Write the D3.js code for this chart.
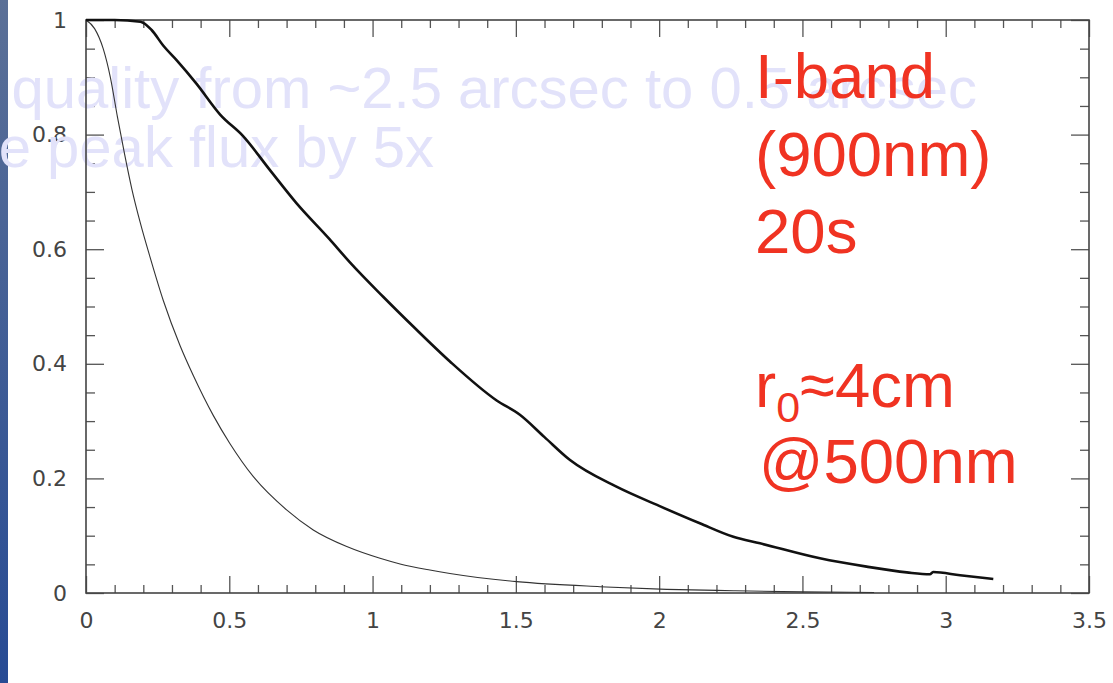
<!DOCTYPE html>
<html><head><meta charset="utf-8">
<script src="https://cdn.jsdelivr.net/npm/d3@7/dist/d3.min.js"></script>
<style>html,body{margin:0;padding:0;background:#fff;overflow:hidden}</style>
</head><body>
<script>
// ---- data ----
const thickX = [0, 0.10, 0.19, 0.229, 0.27, 0.316, 0.386, 0.468, 0.549, 0.642, 0.735, 0.849, 0.921, 1.037, 1.142, 1.27, 1.433, 1.514, 1.60, 1.689, 1.851, 2.0, 2.142, 2.259, 2.352, 2.561, 2.724, 2.864, 2.945, 2.956, 3.05, 3.166];
const thickY = [1, 1, 0.997, 0.9825, 0.955, 0.930, 0.8885, 0.835, 0.797, 0.738, 0.680, 0.618, 0.577, 0.517, 0.465, 0.404, 0.336, 0.311, 0.272, 0.232, 0.1855, 0.152, 0.1216, 0.098, 0.0867, 0.0605, 0.046, 0.036, 0.0326, 0.0366, 0.031, 0.0244];
const thinX = [0, 0.03, 0.06, 0.085, 0.11, 0.135, 0.16, 0.19, 0.223, 0.27, 0.328, 0.374, 0.444, 0.502, 0.584, 0.70, 0.793, 0.91, 1.026, 1.096, 1.2, 1.27, 1.503, 1.793, 2.026, 2.259, 2.5, 2.75];
const thinY = [1, 0.985, 0.95, 0.90, 0.83, 0.765, 0.705, 0.645, 0.587, 0.51, 0.432, 0.38, 0.31, 0.261, 0.203, 0.145, 0.110, 0.081, 0.0605, 0.0506, 0.040, 0.034, 0.0198, 0.011, 0.0064, 0.004, 0.002, 0.001];
const xMajorTicks = [0, 0.5, 1, 1.5, 2, 2.5, 3, 3.5];
const xTickLabels = ["0", "0.5", "1", "1.5", "2", "2.5", "3", "3.5"];
const yMajorTicks = [0, 0.2, 0.4, 0.6, 0.8, 1];
const yTickLabels = ["0", "0.2", "0.4", "0.6", "0.8", "1"];
const redLines = ["I-band", "(900nm)", "20s"];
const fadedLines = ["quality from ~2.5 arcsec to 0.5 arcsec", "e peak flux by 5x"];

const W = 1113, H = 683;
const svg = d3.select("body").append("svg").attr("width", W).attr("height", H);
const L = 86, R = 1089, T = 20, B = 593;
const x = d3.scaleLinear().domain([0, 3.5]).range([L, R]);
const y = d3.scaleLinear().domain([0, 1]).range([B, T]);

// left blue bar
const defs = svg.append("defs");
const g1 = defs.append("linearGradient").attr("id", "bar").attr("x1", 0).attr("y1", 0).attr("x2", 0).attr("y2", 1);
g1.append("stop").attr("offset", "0%").attr("stop-color", "#5b7097");
g1.append("stop").attr("offset", "100%").attr("stop-color", "#274b94");
svg.append("rect").attr("x", 0).attr("y", 0).attr("width", 8).attr("height", H).attr("fill", "url(#bar)");

const xMinor = d3.range(0, 3.5001, 0.1).map(v => +v.toFixed(2)).filter(v => !xMajorTicks.some(m => Math.abs(m - v) < 1e-6));
const yMinor = d3.range(0, 1.0001, 0.05).map(v => +v.toFixed(2)).filter(v => !yMajorTicks.some(m => Math.abs(m - v) < 1e-6));

const tickColor = "#555";
function styleAxis(g, fs) {
  g.select(".domain").remove();
  g.selectAll("line").attr("stroke", tickColor).attr("stroke-width", 1.3);
  g.selectAll("text").attr("font-family", "DejaVu Sans, sans-serif").attr("font-size", fs).attr("fill", "#444");
}
const xLab = d => xTickLabels[xMajorTicks.indexOf(d)];
const yLab = d => yTickLabels[yMajorTicks.findIndex(m => Math.abs(m - d) < 1e-6)];
const FS = 22;

// bottom
svg.append("g").attr("transform", `translate(0,${B})`).call(d3.axisBottom(x).tickValues(xMajorTicks).tickSize(-17).tickPadding(19).tickFormat(xLab)).call(g => styleAxis(g, FS));
svg.append("g").attr("transform", `translate(0,${B})`).call(d3.axisBottom(x).tickValues(xMinor).tickSize(-8).tickFormat("")).call(g => styleAxis(g, FS));
// top
svg.append("g").attr("transform", `translate(0,${T})`).call(d3.axisTop(x).tickValues(xMajorTicks).tickSize(-17).tickFormat("")).call(g => styleAxis(g, FS));
svg.append("g").attr("transform", `translate(0,${T})`).call(d3.axisTop(x).tickValues(xMinor).tickSize(-8).tickFormat("")).call(g => styleAxis(g, FS));
// left
svg.append("g").attr("transform", `translate(${L},0)`).call(d3.axisLeft(y).tickValues(yMajorTicks).tickSize(-18).tickPadding(19).tickFormat(yLab)).call(g => styleAxis(g, FS));
svg.append("g").attr("transform", `translate(${L},0)`).call(d3.axisLeft(y).tickValues(yMinor).tickSize(-9).tickFormat("")).call(g => styleAxis(g, FS));
// right
svg.append("g").attr("transform", `translate(${R},0)`).call(d3.axisRight(y).tickValues(yMajorTicks).tickSize(-18).tickFormat("")).call(g => styleAxis(g, FS));
svg.append("g").attr("transform", `translate(${R},0)`).call(d3.axisRight(y).tickValues(yMinor).tickSize(-9).tickFormat("")).call(g => styleAxis(g, FS));

// faded overlay text
const faded = svg.append("g").attr("font-family", "Liberation Sans, Arial, sans-serif").attr("font-size", 58).attr("fill", "#e2e2fa");
faded.append("text").attr("x", 977).attr("y", 108).attr("text-anchor", "end").text(fadedLines[0]);
faded.append("text").attr("x", 434).attr("y", 167).attr("text-anchor", "end").text(fadedLines[1]);

// frame
svg.append("rect").attr("x", L).attr("y", T).attr("width", R - L).attr("height", B - T).attr("fill", "none").attr("stroke", "#444").attr("stroke-width", 1.6);

// curves
const line = d3.line().x(d => x(d[0])).y(d => y(d[1])).curve(d3.curveMonotoneX);
svg.append("path").datum(thinX.map((v, i) => [v, thinY[i]])).attr("d", line).attr("fill", "none").attr("stroke", "#333").attr("stroke-width", 1.1);
svg.append("path").datum(thickX.map((v, i) => [v, thickY[i]])).attr("d", line).attr("fill", "none").attr("stroke", "#111").attr("stroke-width", 2.6);

// red annotation
const red = svg.append("g").attr("font-family", "Liberation Sans, Arial, sans-serif").attr("font-size", 63.5).attr("fill", "#f03322");
const baselines = [98, 176, 253];
redLines.forEach((t, i) => red.append("text").attr("x", 755).attr("y", baselines[i]).text(t));
const r0 = red.append("text").attr("x", 755).attr("y", 407);
r0.append("tspan").text("r");
r0.append("tspan").attr("font-size", 43).attr("dy", 15).text("0");
r0.append("tspan").attr("dy", -15).text("≈4cm");
red.append("text").attr("x", 759).attr("y", 483).text("@500nm");
</script>
</body></html>
